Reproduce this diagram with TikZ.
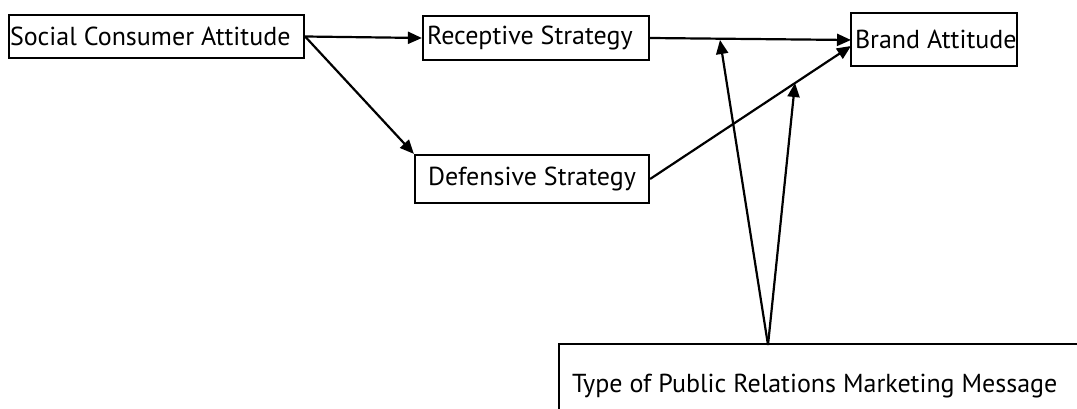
\documentclass[tikz,border=0pt]{standalone}
\usepackage{fontspec}
\setmainfont{PT Sans}
\usetikzlibrary{arrows.meta}
\begin{document}
\begin{tikzpicture}[x=1pt,y=-1pt,
  box/.style={draw, line width=2.2pt, inner ysep=0pt, font=\fontsize{26}{30}\selectfont},
  arr/.style={line width=2.2pt, -{Triangle[length=14pt,width=12pt]}}]
\useasboundingbox (0,0) rectangle (1077,409);
\clip (0,0) rectangle (1077,409);
\node[box, inner xsep=1pt, minimum height=43pt] (sca) at (156.5,36.5) {\makebox[293pt][l]{Social Consumer Attitude}};
\node[box, inner xsep=4pt, minimum height=44pt] (rs) at (536,38) {\makebox[218pt][l]{Receptive Strategy}};
\node[box, inner xsep=4pt, minimum height=53pt] (ba) at (934,39.5) {\makebox[158pt][l]{Brand Attitude}};
\node[box, inner xsep=13pt, minimum height=48pt] (ds) at (532,179) {\makebox[208pt][l]{Defensive Strategy}};
\node[box, inner xsep=13pt, minimum height=84pt, anchor=north west] (msg) at (558,343) {\makebox[504pt][l]{Type of Public Relations Marketing Message}};
\coordinate (ba1) at (851,40);
\coordinate (ba2) at (851,46);
\coordinate (m) at (768,345);
\coordinate (t1) at (720,40);
\coordinate (t2) at (795,83);
\draw[arr] (sca.east) -- (rs.west);
\draw[arr] (sca.east) -- (ds.north west);
\draw[arr] (rs.east) -- (ba1);
\draw[arr] (ds.east) -- (ba2);
\draw[arr] (m) -- (t1);
\draw[arr] (m) -- (t2);
\end{tikzpicture}
\end{document}
